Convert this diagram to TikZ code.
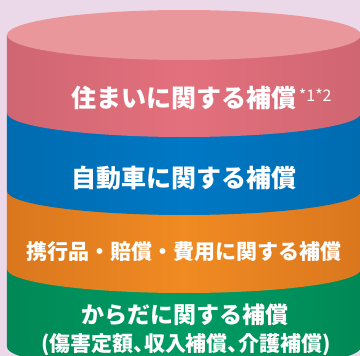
\documentclass[tikz,border=0pt]{standalone}
\usepackage{fontspec}
\usepackage{tikz}
\newfontfamily\jp{Noto Sans CJK JP}
\newfontfamily\jpp{Noto Sans CJK JP}[RawFeature=+palt]
\definecolor{bgcol}{HTML}{EBD9EA}
\definecolor{lidcol}{HTML}{E9979B}
\definecolor{pinkE}{HTML}{CF6671}
\definecolor{pinkM}{HTML}{E3707D}
\definecolor{blueE}{HTML}{006BAF}
\definecolor{blueM}{HTML}{0078C4}
\definecolor{orngE}{HTML}{DA771E}
\definecolor{orngM}{HTML}{F08B22}
\definecolor{grnE}{HTML}{008856}
\definecolor{grnM}{HTML}{009C65}
\tikzset{label/.style={text=white,inner sep=0pt,font=\jp\bfseries}}

\begin{document}
\begin{tikzpicture}[x=1pt,y=-1pt]
                                     \useasboundingbox (0,0) rectangle (360,356);
                                     \fill[bgcol] (0,0) rectangle (360,356);
                                     % bands, bottom first
                                     \shade[left color=grnE,right color=grnE,middle color=grnM] (7,269) -- (7,347) arc[start angle=180,end angle=0,x radius=177,y radius=24] -- (361,269) -- cycle;
                                     \shade[left color=orngE,right color=orngE,middle color=orngM] (7,191) -- (7,269) arc[start angle=180,end angle=0,x radius=177,y radius=24] -- (361,191) -- cycle;
                                     \shade[left color=blueE,right color=blueE,middle color=blueM] (7,113) -- (7,191) arc[start angle=180,end angle=0,x radius=177,y radius=24] -- (361,113) -- cycle;
                                     \shade[left color=pinkE,right color=pinkE,middle color=pinkM] (7,35) -- (7,113) arc[start angle=180,end angle=0,x radius=177,y radius=24] -- (361,35) -- cycle;
                                     \fill[lidcol] (184,35) ellipse[x radius=177,y radius=25];
                                     % labels
                                     \node[label,font=\jp\bfseries\fontsize{25}{28}\selectfont] (sumai) at (184,98) {住まいに関する補償};
                                     \node[label,font=\jp\fontsize{16}{18}\selectfont,anchor=north west] (chu) at ([xshift=2pt,yshift=-3pt]sumai.north east) {*1*2};
                                     \node[label,font=\jp\bfseries\fontsize{25}{28}\selectfont] (jidosha) at (184,178) {自動車に関する補償};
                                     \node[label,font=\jp\bfseries\fontsize{21}{25}\selectfont] (keikou) at (184,252) {携行品・賠償・費用に関する補償};
                                     \node[label,font=\jp\bfseries\fontsize{23}{27}\selectfont] (karada) at (185,315) {からだに関する補償};
                                     \node[label,font=\jpp\bfseries\fontsize{21}{25}\selectfont] (naiyou) at (186,345) {(傷害定額、収入補償、介護補償)};
                                 \end{tikzpicture}
\end{document}
